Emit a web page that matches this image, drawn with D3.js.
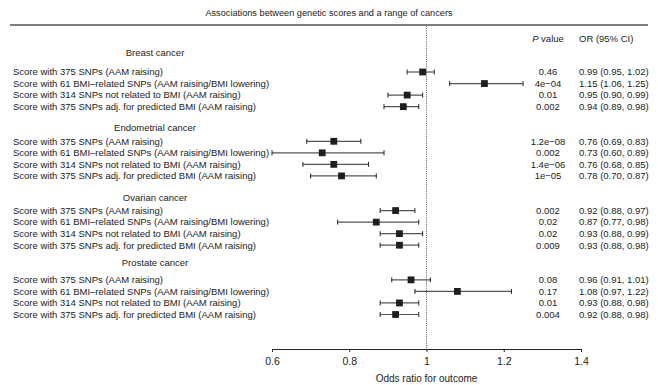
<!DOCTYPE html>
<html lang="en">
<head>
    <meta charset="UTF-8">
    <title>Forest plot</title>
    <script src="https://cdn.jsdelivr.net/npm/d3@7"></script>
    <style>
        body { margin: 0; background: #fff; }
        text { font-family: "Liberation Sans", Arial, sans-serif; fill: #222; }
    </style>
</head>
<body>
<script type="text/javascript">
    var width = 658;
    var height = 385;

    var cancers = ["Breast cancer", "Endometrial cancer", "Ovarian cancer", "Prostate cancer"];
    var scores = [
        "Score with 375 SNPs (AAM raising)",
        "Score with 61 BMI\u2013related SNPs (AAM raising/BMI lowering)",
        "Score with 314 SNPs not related to BMI (AAM raising)",
        "Score with 375 SNPs adj. for predicted BMI (AAM raising)"
    ];
    // odds ratios, one array per cancer
    var oddsRatio = [
        [0.99, 1.15, 0.95, 0.94],
        [0.76, 0.73, 0.76, 0.78],
        [0.92, 0.87, 0.93, 0.93],
        [0.96, 1.08, 0.93, 0.92]
    ];
    var lowerCI = [
        [0.95, 1.06, 0.90, 0.89],
        [0.69, 0.60, 0.68, 0.70],
        [0.88, 0.77, 0.88, 0.88],
        [0.91, 0.97, 0.88, 0.88]
    ];
    var upperCI = [
        [1.02, 1.25, 0.99, 0.98],
        [0.83, 0.89, 0.85, 0.87],
        [0.97, 0.98, 0.99, 0.98],
        [1.01, 1.22, 0.98, 0.98]
    ];
    var pValues = [
        ["0.46", "4e\u221204", "0.01", "0.002"],
        ["1.2e\u221208", "0.002", "1.4e\u221206", "1e\u221205"],
        ["0.002", "0.02", "0.02", "0.009"],
        ["0.08", "0.17", "0.01", "0.004"]
    ];
    var xTicks = [0.6, 0.8, 1, 1.2, 1.4];

    // layout: row slot for each group's first row and its heading
    var groupSlot = [0, 6, 12, 18];
    var headSlot = [-1.65, 4.85, 10.9, 16.55];
    var fs = '9.5px';

    var svg = d3.select('body').append('svg')
            .attr('width', width)
            .attr('height', height);

    var x = d3.scaleLinear().domain([0.6, 1.4]).range([272, 581]);
    var y = d3.scaleLinear().domain([0, 21]).range([72, 314.5]);

    var rows = [];
    cancers.forEach(function (c, g) {
        scores.forEach(function (s, i) {
            rows.push({
                label: s,
                or: oddsRatio[g][i],
                lo: lowerCI[g][i],
                hi: upperCI[g][i],
                p: pValues[g][i],
                slot: groupSlot[g] + i
            });
        });
    });

    // title and top rule
    svg.append('text')
            .attr('x', 329).attr('y', 13)
            .attr('dy', '.35em')
            .attr('text-anchor', 'middle')
            .style('font-size', '9.2px')
            .text('Associations between genetic scores and a range of cancers');
    svg.append('line')
            .attr('x1', 10).attr('x2', 648)
            .attr('y1', 25).attr('y2', 25)
            .attr('stroke', '#555')
            .attr('stroke-width', 1.5);

    // column headers
    var ph = svg.append('text')
            .attr('x', 548).attr('y', 39)
            .attr('dy', '.35em')
            .attr('text-anchor', 'middle')
            .style('font-size', fs);
    ph.append('tspan').style('font-style', 'italic').text('P');
    ph.append('tspan').text(' value');
    svg.append('text')
            .attr('x', 579).attr('y', 39)
            .attr('dy', '.35em')
            .style('font-size', fs)
            .text('OR (95% CI)');

    // reference line at OR = 1
    svg.append('line')
            .attr('x1', x(1)).attr('x2', x(1))
            .attr('y1', 26).attr('y2', 349)
            .attr('stroke', '#333')
            .attr('stroke-width', 0.8)
            .attr('stroke-dasharray', '1,1.2');

    // group headings
    svg.selectAll('.groupHead')
            .data(cancers)
            .enter()
            .append('text')
            .attr('class', 'groupHead')
            .attr('x', 155)
            .attr('y', function (d, i) { return y(headSlot[i]); })
            .attr('dy', '.35em')
            .attr('text-anchor', 'middle')
            .style('font-size', fs)
            .text(function (d) { return d; });

    // row labels
    svg.selectAll('.rowLabel')
            .data(rows)
            .enter()
            .append('text')
            .attr('class', 'rowLabel')
            .attr('x', 13)
            .attr('y', function (d) { return y(d.slot); })
            .attr('dy', '.35em')
            .style('font-size', fs)
            .text(function (d) { return d.label; });

    // p values
    svg.selectAll('.pText')
            .data(rows)
            .enter()
            .append('text')
            .attr('class', 'pText')
            .attr('x', 548)
            .attr('y', function (d) { return y(d.slot); })
            .attr('dy', '.35em')
            .attr('text-anchor', 'middle')
            .style('font-size', fs)
            .text(function (d) { return d.p; });

    // OR (95% CI) text
    svg.selectAll('.orText')
            .data(rows)
            .enter()
            .append('text')
            .attr('class', 'orText')
            .attr('x', 579)
            .attr('y', function (d) { return y(d.slot); })
            .attr('dy', '.35em')
            .style('font-size', fs)
            .text(function (d) {
                return d.or.toFixed(2) + ' (' + d.lo.toFixed(2) + ', ' + d.hi.toFixed(2) + ')';
            });

    // confidence intervals
    var ci = svg.selectAll('.ci')
            .data(rows)
            .enter()
            .append('g')
            .attr('class', 'ci');
    ci.append('line')
            .attr('x1', function (d) { return x(d.lo); })
            .attr('x2', function (d) { return x(d.hi); })
            .attr('y1', function (d) { return y(d.slot); })
            .attr('y2', function (d) { return y(d.slot); })
            .attr('stroke', '#555')
            .attr('stroke-width', 1.2);
    ci.selectAll('.cap')
            .data(function (d) { return [{v: d.lo, s: d.slot}, {v: d.hi, s: d.slot}]; })
            .enter()
            .append('line')
            .attr('class', 'cap')
            .attr('x1', function (d) { return x(d.v); })
            .attr('x2', function (d) { return x(d.v); })
            .attr('y1', function (d) { return y(d.s) - 2.5; })
            .attr('y2', function (d) { return y(d.s) + 2.5; })
            .attr('stroke', '#222')
            .attr('stroke-width', 1);
    ci.append('rect')
            .attr('x', function (d) { return x(d.or) - 3.4; })
            .attr('y', function (d) { return y(d.slot) - 3.4; })
            .attr('width', 6.8)
            .attr('height', 6.8)
            .attr('fill', '#1e1e1e');

    // x axis
    var axis = svg.append('g')
            .attr('transform', 'translate(0,349)')
            .call(d3.axisBottom(x).tickValues(xTicks).tickSize(3).tickSizeOuter(0)
                    .tickFormat(function (d) { return d; }));
    axis.select('.domain').attr('stroke', '#222').attr('stroke-width', 1.2);
    axis.selectAll('.tick line').attr('stroke', '#222');
    axis.selectAll('.tick text')
            .attr('y', 9)
            .style('font-family', '"Liberation Sans", Arial, sans-serif')
            .style('font-size', '10.5px')
            .style('fill', '#222');

    svg.append('text')
            .attr('x', x(1)).attr('y', 378)
            .attr('dy', '.35em')
            .attr('text-anchor', 'middle')
            .style('font-size', '10px')
            .text('Odds ratio for outcome');
</script>
</body>
</html>
